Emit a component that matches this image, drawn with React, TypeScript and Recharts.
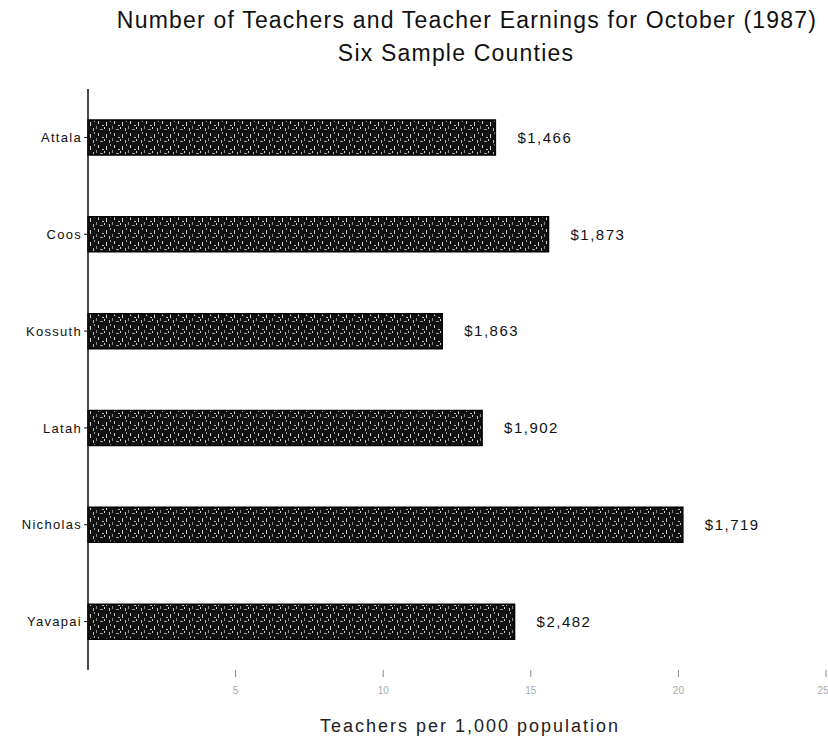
import { BarChart, Bar, XAxis, YAxis, LabelList } from 'recharts'

const counties = ['Attala', 'Coos', 'Kossuth', 'Latah', 'Nicholas', 'Yavapai']
const teachersPer1000 = [13.8, 15.6, 12.0, 13.35, 20.15, 14.45]
const earnings = ['$1,466', '$1,873', '$1,863', '$1,902', '$1,719', '$2,482']
const xTicks = [5, 10, 15, 20, 25]

const data = counties.map((name, i) => ({
  name,
  teachers: teachersPer1000[i],
  earnings: earnings[i],
}))

const font = '"Liberation Sans", Arial, Helvetica, sans-serif'

export default function App() {
  return (
    <div style={{ position: 'absolute', left: 0, top: 0, width: 828, height: 741, background: '#fff', fontFamily: font }}>
      <div style={{ position: 'absolute', top: 7, left: 0, width: 934, textAlign: 'center', fontSize: 23, letterSpacing: 1.2, color: '#111' }}>
        Number of Teachers and Teacher Earnings for October (1987)
      </div>
      <div style={{ position: 'absolute', top: 40, left: 0, width: 912, textAlign: 'center', fontSize: 23, letterSpacing: 1.2, color: '#111' }}>
        Six Sample Counties
      </div>
      <div style={{ position: 'absolute', top: 716, left: 0, width: 940, textAlign: 'center', fontSize: 18, letterSpacing: 2, color: '#222' }}>
        Teachers per 1,000 population
      </div>
      <BarChart
        width={828}
        height={741}
        data={data}
        layout="vertical"
        margin={{ top: 89, right: 2, bottom: 0, left: 0 }}
        barCategoryGap={0}
      >
        <defs>
          <pattern id="speckle" width="16" height="12" patternUnits="userSpaceOnUse">
            <rect width="16" height="12" fill="#111" />
            <rect x="2" y="1" width="1" height="3" fill="#fff" opacity="0.8" />
            <rect x="6" y="5" width="2" height="1" fill="#fff" opacity="0.7" />
            <rect x="10" y="2" width="1" height="4" fill="#fff" opacity="0.8" />
            <rect x="13" y="8" width="1" height="3" fill="#fff" opacity="0.7" />
            <rect x="4" y="9" width="3" height="1" fill="#fff" opacity="0.6" />
            <rect x="8" y="7" width="1" height="2" fill="#fff" opacity="0.8" />
            <rect x="14" y="0" width="1" height="2" fill="#fff" opacity="0.6" />
            <rect x="0" y="6" width="1" height="3" fill="#fff" opacity="0.5" />
          </pattern>
        </defs>
        <XAxis
          type="number"
          domain={[0, 25]}
          ticks={xTicks}
          height={71}
          axisLine={false}
          tickLine={{ stroke: '#888' }}
          tickSize={7}
          tick={{ fill: '#aaa', fontSize: 10, fontFamily: font, dy: 8 }}
        />
        <YAxis
          type="category"
          dataKey="name"
          width={88}
          axisLine={{ stroke: '#111', strokeWidth: 1.5 }}
          tickLine={{ stroke: '#111' }}
          tickSize={4}
          tick={{ fill: '#111', fontSize: 13, letterSpacing: 1.3, fontFamily: font }}
        />
        <Bar
          dataKey="teachers"
          barSize={35}
          fill="url(#speckle)"
          stroke="#000"
          strokeWidth={1.5}
          isAnimationActive={false}
        >
          <LabelList
            dataKey="earnings"
            position="right"
            offset={22}
            fill="#111"
            fontSize={15}
            letterSpacing={1.5}
            fontFamily={font}
          />
        </Bar>
      </BarChart>
    </div>
  )
}
